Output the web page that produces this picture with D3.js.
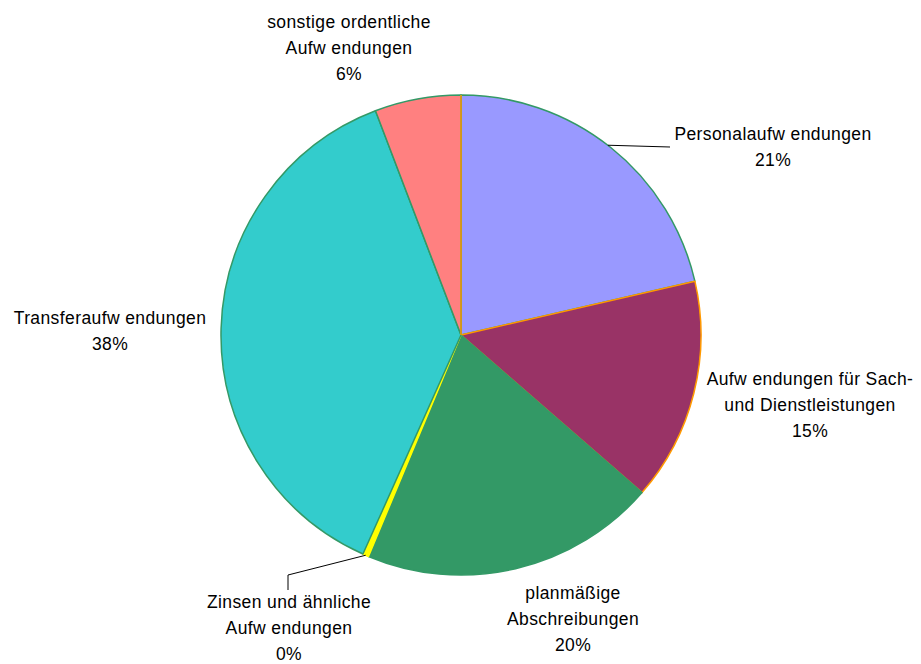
<!DOCTYPE html>
<html><head><meta charset="utf-8">
<script src="https://cdn.jsdelivr.net/npm/d3@7"></script>
<style>body{margin:0;background:#fff}svg{display:block}text{font-family:"Liberation Sans",Arial,sans-serif;font-size:17.5px;letter-spacing:0.4px;fill:#000}</style>
</head><body><svg id="c" width="921" height="664"></svg>
<script>
const categories = ["Personalaufw endungen", "Aufw endungen für Sach- und Dienstleistungen", "planmäßige Abschreibungen", "Zinsen und ähnliche Aufw endungen", "Transferaufw endungen", "sonstige ordentliche Aufw endungen"];
const values = [21.4, 15.0, 19.9, 0.4, 37.5, 5.8];
const percentLabels = ["21%", "15%", "20%", "0%", "38%", "6%"];
const labelLines = [["Personalaufw endungen"], ["Aufw endungen für Sach-", "und Dienstleistungen"], ["planmäßige", "Abschreibungen"], ["Zinsen und ähnliche", "Aufw endungen"], ["Transferaufw endungen"], ["sonstige ordentliche", "Aufw endungen"]];
const fills = ["#9999FF", "#993366", "#339966", "#FFFF00", "#33CCCC", "#FF8080"];
const strokes = ["#339966", "#FF9900", "#339966", "#FFFF00", "#339966", "#339966"];
// label layout (text block centre x, first baseline y)
const labelPos = [[773, 140], [810, 385], [573, 599], [289, 608], [110, 324], [349, 28]];

const svg = d3.select("#c");
const cx = 461, cy = 335, R = 240;
const g = svg.append("g").attr("transform", `translate(${cx},${cy})`);
const pie = d3.pie().sort(null).value(d => d)(values);
const arc = d3.arc().innerRadius(0).outerRadius(R);
g.selectAll("path.s").data(pie).join("path").attr("class", "s")
  .attr("d", arc).attr("fill", (d, i) => fills[i])
  .attr("stroke", (d, i) => strokes[i]).attr("stroke-width", 1.5).attr("stroke-linejoin", "round");
// orange radial edge at the start
const a0 = pie[0].startAngle;
g.append("line").attr("x1", 0).attr("y1", 0)
  .attr("x2", R * Math.sin(a0)).attr("y2", -R * Math.cos(a0))
  .attr("stroke", "#FF9900").attr("stroke-width", 1.5);

// leader lines
function edgePt(i, frac) {
  const a = pie[i].startAngle + (pie[i].endAngle - pie[i].startAngle) * frac;
  return [cx + R * Math.sin(a), cy - R * Math.cos(a)];
}
const p0 = edgePt(0, 0.49);
svg.append("polyline").attr("points", [p0, [670, 147]].map(p => p.join(",")).join(" "))
  .attr("fill", "none").attr("stroke", "#000").attr("stroke-width", 1);
const p3 = edgePt(3, 0.5);
svg.append("polyline").attr("points", [p3, [288, 575], [288, 590]].map(p => p.join(",")).join(" "))
  .attr("fill", "none").attr("stroke", "#000").attr("stroke-width", 1);

labelPos.forEach((pos, i) => {
  const t = svg.append("text").attr("text-anchor", "middle");
  const lines = labelLines[i].concat([percentLabels[i]]);
  lines.forEach((l, k) => t.append("tspan").attr("x", pos[0]).attr("y", pos[1] + k * 26).text(l));
});
</script></body></html>
